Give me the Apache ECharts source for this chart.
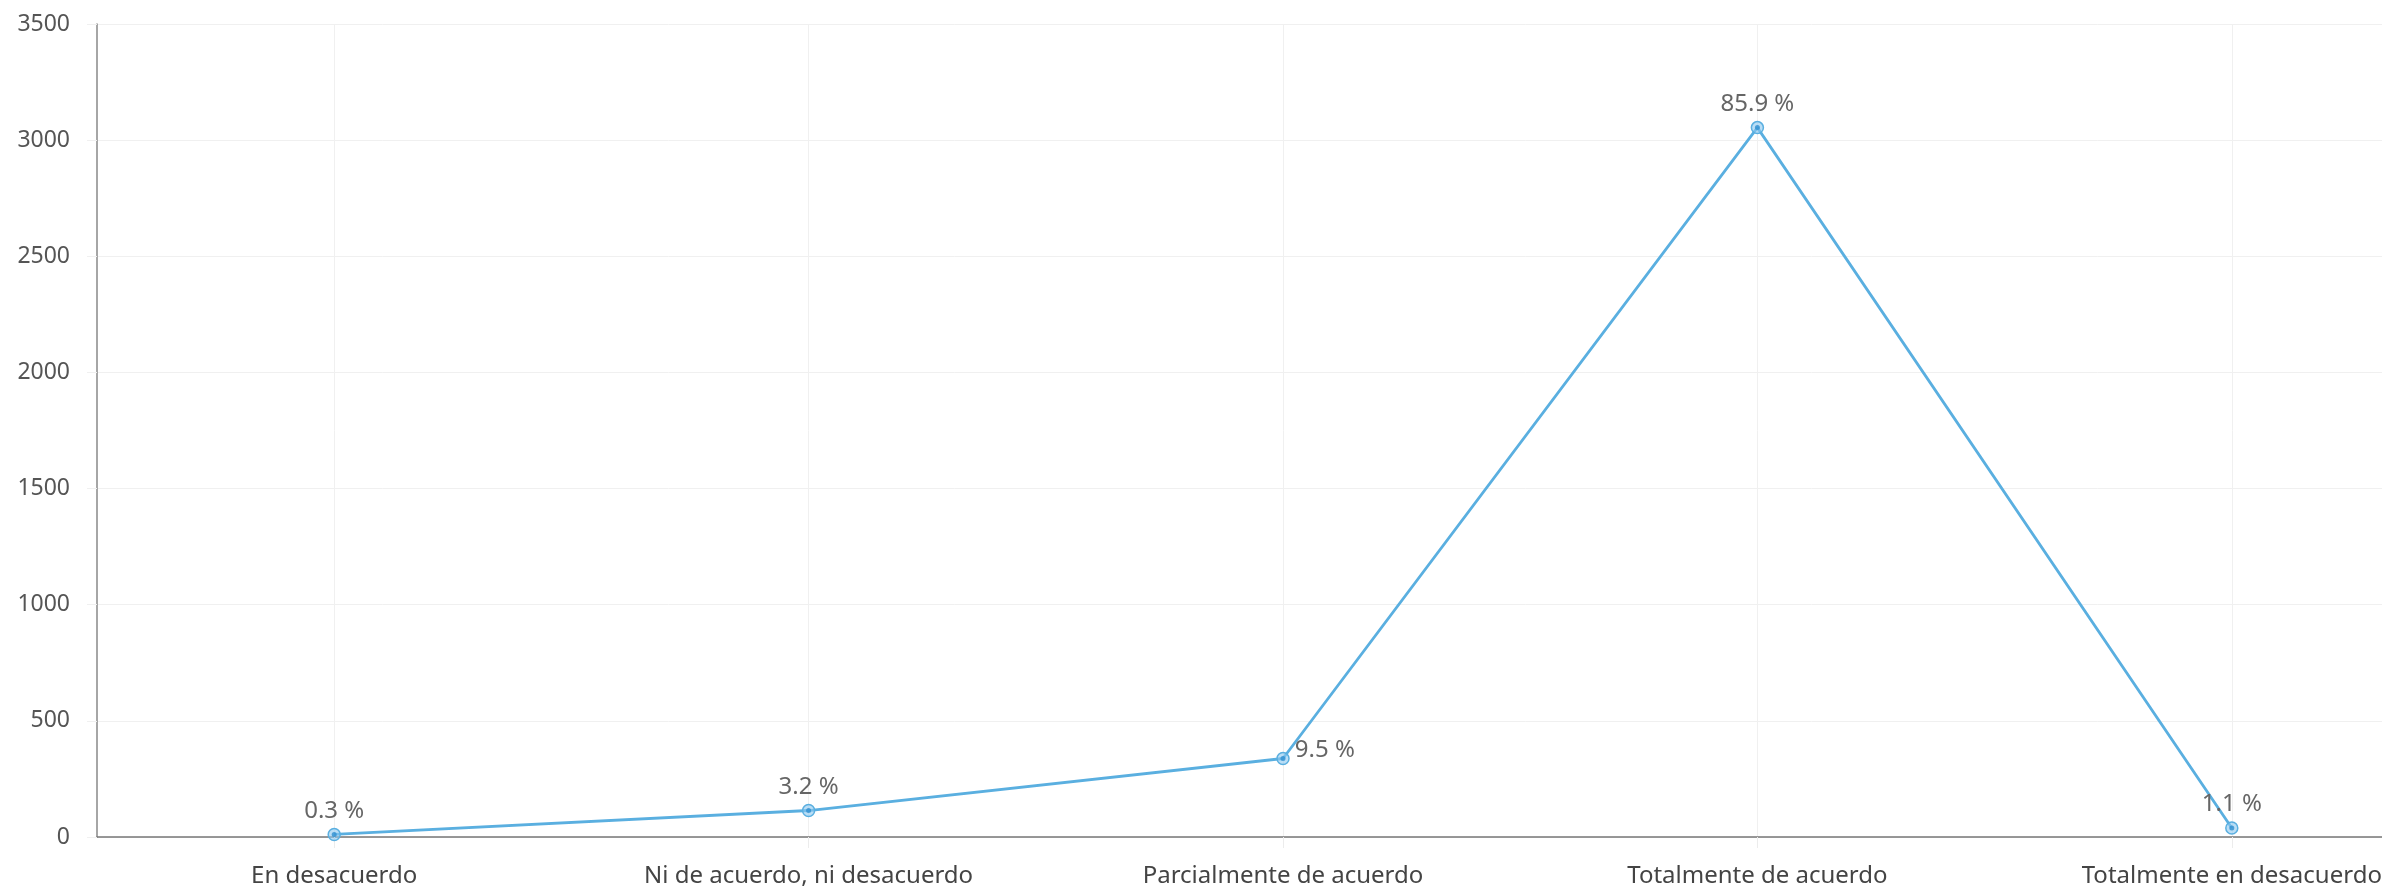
<!DOCTYPE html>
<html>
<head>
<meta charset="utf-8">
<script src="https://cdn.jsdelivr.net/npm/echarts@6/dist/echarts.min.js"></script>
<style>
html,body{margin:0;padding:0;background:#fff;}
#chart{width:2382px;height:890px;}
</style>
</head>
<body>
<div id="chart"></div>
<script>
const categories = ['En desacuerdo', 'Ni de acuerdo, ni desacuerdo', 'Parcialmente de acuerdo', 'Totalmente de acuerdo', 'Totalmente en desacuerdo'];
const counts = [11, 114, 338, 3054, 39];
const percentLabels = ['0.3 %', '3.2 %', '9.5 %', '85.9 %', '1.1 %'];
const yTicks = { min: 0, max: 3500, interval: 500 };

const FONT = '"Noto Sans", "Open Sans", sans-serif';
const chart = echarts.init(document.getElementById('chart'));

const lineData = counts.map((v, i) => {
  const item = { value: v, label: { formatter: percentLabels[i] } };
  if (i === 2) item.label.position = 'right';
  if (i === 2) item.label.offset = [0, -8];
  return item;
});

chart.setOption({
  animation: false,
  backgroundColor: '#ffffff',
  grid: { left: 97, top: 24, width: 2372, height: 813, containLabel: false, outerBoundsMode: 'none' },
  xAxis: {
    type: 'category',
    data: categories,
    boundaryGap: true,
    axisLine: { show: true, lineStyle: { color: '#777777', width: 1.5 } },
    axisTick: { show: true, alignWithLabel: true, length: 11, lineStyle: { color: '#ececec' } },
    axisLabel: { color: '#444444', fontSize: 24, fontFamily: FONT, margin: 27, interval: 0 },
    splitLine: { show: true, alignWithLabel: true, lineStyle: { color: '#f0f0f0' } }
  },
  yAxis: {
    type: 'value',
    min: yTicks.min,
    max: yTicks.max,
    interval: yTicks.interval,
    axisLine: { show: true, lineStyle: { color: '#888888', width: 1.5 } },
    axisTick: { show: true, length: 10, lineStyle: { color: '#f0f0f0' } },
    axisLabel: { color: '#555555', fontSize: 23, fontFamily: FONT, margin: 27, formatter: v => String(v) },
    splitLine: { show: true, lineStyle: { color: '#f0f0f0' } }
  },
  series: [
    {
      type: 'line',
      data: lineData,
      symbol: 'circle',
      symbolSize: 12,
      lineStyle: { color: '#5aafe0', width: 2.8 },
      itemStyle: { color: 'rgba(140,200,240,0.6)', borderColor: '#5aafe0', borderWidth: 1.5 },
      label: { show: true, position: 'top', color: '#666666', fontSize: 24, fontFamily: FONT }
    },
    {
      type: 'scatter',
      data: counts,
      symbol: 'circle',
      symbolSize: 5,
      silent: true,
      itemStyle: { color: '#2f8fd0' },
      z: 5
    }
  ]
});
</script>
</body>
</html>
